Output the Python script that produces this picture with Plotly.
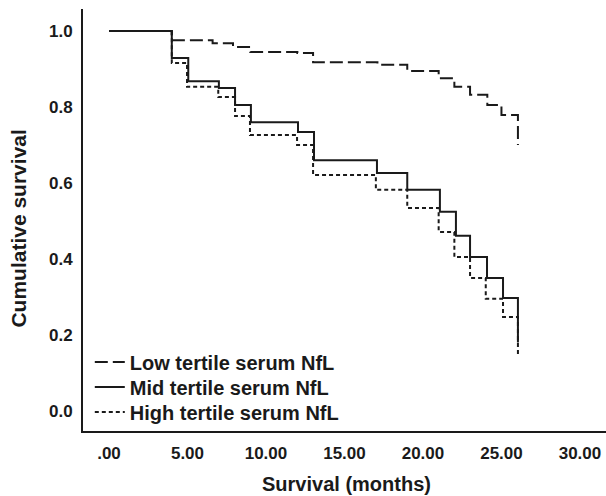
import plotly.graph_objects as go

# Kaplan-Meier step data (months, cumulative survival)
low_t = [0, 4.0, 6.6, 7.9, 9.0, 12.0, 13.0, 17.1, 19.0, 21.0, 22.0, 23.0, 24.1, 25.0, 26.05]
low_s = [1.0, 0.976, 0.968, 0.958, 0.945, 0.942, 0.918, 0.911, 0.895, 0.876, 0.853, 0.832, 0.805, 0.779, 0.70]

mid_t = [0, 4.0, 5.05, 7.0, 8.03, 9.04, 12.04, 13.06, 17.07, 19.0, 21.08, 22.1, 23.0, 24.08, 25.1, 26.05]
mid_s = [1.0, 0.929, 0.868, 0.850, 0.805, 0.760, 0.734, 0.660, 0.626, 0.582, 0.524, 0.461, 0.405, 0.350, 0.297, 0.18]

high_t = [0, 4.0, 4.97, 6.96, 8.03, 8.98, 11.98, 13.0, 17.0, 19.0, 21.0, 22.0, 23.0, 24.0, 25.1, 26.05]
high_s = [1.0, 0.916, 0.853, 0.826, 0.776, 0.726, 0.700, 0.621, 0.582, 0.534, 0.471, 0.405, 0.350, 0.295, 0.247, 0.142]

series_names = ["Low tertile serum NfL", "Mid tertile serum NfL", "High tertile serum NfL"]

x_tickvals = [0, 5, 10, 15, 20, 25, 30]
x_ticktext = [".00", "5.00", "10.00", "15.00", "20.00", "25.00", "30.00"]
y_tickvals = [0.0, 0.2, 0.4, 0.6, 0.8, 1.0]
y_ticktext = ["0.0", "0.2", "0.4", "0.6", "0.8", "1.0"]

FONT = "Arial, 'Liberation Sans', Helvetica, sans-serif"
INK = "#1a1a1a"
LEG_FONT = dict(size=20, family=FONT, color=INK, weight="bold")

fig = go.Figure()
for t, s, name, dash, leg in [
    (low_t, low_s, series_names[0], "13px,5px", "legend"),
    (mid_t, mid_s, series_names[1], "solid", "legend2"),
    (high_t, high_s, series_names[2], "4px,3px", "legend3"),
]:
    fig.add_trace(go.Scatter(
        x=t, y=s, mode="lines", name=name, legend=leg,
        line=dict(shape="hv", color=INK, width=2, dash=dash),
    ))

def leg(yc):
    return dict(x=0.013, y=yc, xanchor="left", yanchor="middle",
                bgcolor="rgba(0,0,0,0)", borderwidth=0,
                font=LEG_FONT, itemwidth=30, tracegroupgap=0)

fig.update_layout(
    width=606, height=496,
    margin=dict(l=83, r=0, t=9, b=65, autoexpand=False),
    paper_bgcolor="white", plot_bgcolor="white",
    font=dict(family=FONT, color=INK),
    showlegend=True,
    legend=leg(0.1635),
    legend2=leg(0.1043),
    legend3=leg(0.045),
    xaxis=dict(
        range=[-1.656, 31.66], showgrid=False, zeroline=False,
        showline=True, linecolor=INK, linewidth=2, automargin=False,
        tickmode="array", tickvals=x_tickvals, ticktext=x_ticktext,
        ticks="", ticklabelstandoff=6,
        tickfont=dict(size=17, family=FONT, color=INK, weight="bold"),
    ),
    yaxis=dict(
        range=[-0.053, 1.058], showgrid=False, zeroline=False,
        showline=True, linecolor=INK, linewidth=2, automargin=False,
        tickmode="array", tickvals=y_tickvals, ticktext=y_ticktext,
        ticks="", ticklabelstandoff=5,
        tickfont=dict(size=17, family=FONT, color=INK, weight="bold"),
    ),
    annotations=[
        dict(text="Survival (months)", xref="paper", yref="paper",
             x=0.503, y=-0.1256, xanchor="center", yanchor="middle",
             showarrow=False,
             font=dict(size=20, family=FONT, color=INK, weight="bold")),
        dict(text="Cumulative survival", xref="paper", yref="paper",
             x=-0.124, y=0.48, xanchor="center", yanchor="middle",
             textangle=-90, showarrow=False,
             font=dict(size=21, family=FONT, color=INK, weight="bold")),
    ],
)

fig.write_html(
    "out.html",
    config={"displayModeBar": False},
    post_script="document.body.style.margin='0';document.body.style.overflow='hidden';",
)
